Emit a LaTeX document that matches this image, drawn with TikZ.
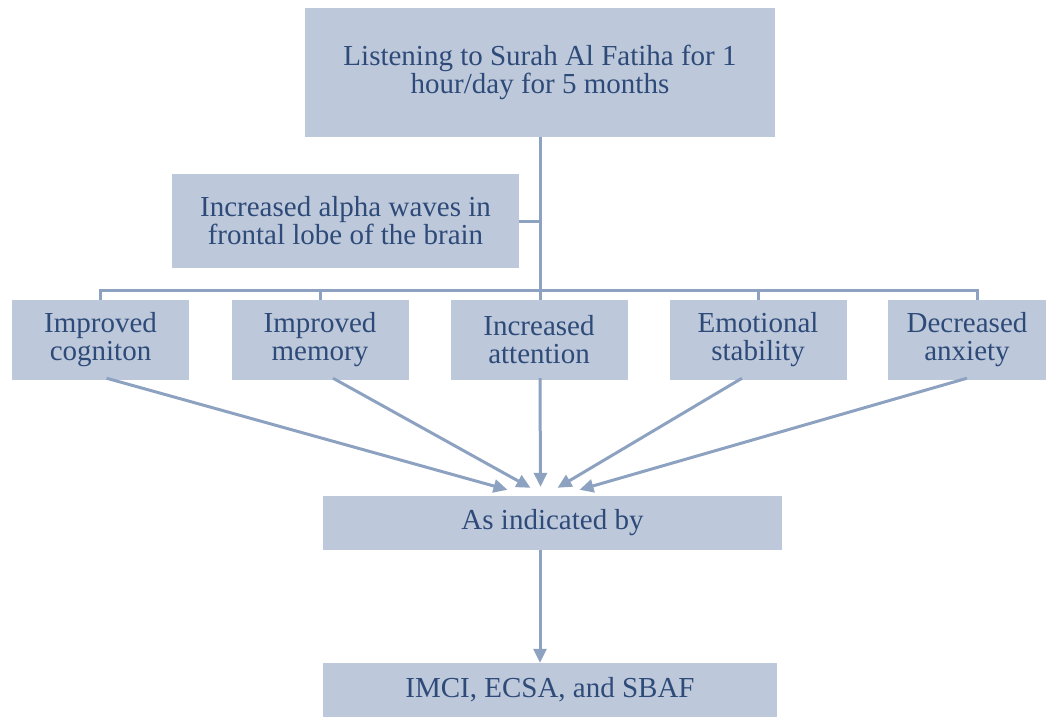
\documentclass[tikz,border=0pt]{standalone}
\usepackage{fontspec}
\setmainfont{Liberation Serif}
\usetikzlibrary{arrows.meta,calc}
\definecolor{boxfill}{HTML}{BDC9DB}
\definecolor{linecol}{HTML}{8DA2C0}
\definecolor{txtcol}{HTML}{2E4A78}
\begin{document}
\begin{tikzpicture}[x=1pt,y=-1pt,
  box/.style={rectangle, fill=boxfill, draw=none, inner sep=0pt, align=center,
    text=txtcol, font=\fontsize{29}{28}\selectfont},
  conn/.style={draw=linecol, line width=3pt},
  arr/.style={conn, -{Triangle[length=14pt,width=13pt]}}]
\useasboundingbox (0,0) rectangle (1055,717);
\node[box, minimum width=470, minimum height=129] (top) at (540,72.5) {Listening to Surah Al Fatiha for 1\\hour/day for 5 months};
\node[box, minimum width=347, minimum height=94] (alpha) at (345.5,221) {Increased alpha waves in\\frontal lobe of the brain};
\node[box, minimum width=177, minimum height=80] (cog) at (100.5,340) {Improved\\cogniton};
\node[box, minimum width=177, minimum height=80] (mem) at (320,340) {Improved\\memory};
\node[box, minimum width=177, minimum height=80] (att) at (539,340) {Increased\\attention};
\node[box, minimum width=177, minimum height=80] (emo) at (758,340) {Emotional\\stability};
\node[box, minimum width=158, minimum height=80] (dec) at (967,340) {Decreased\\anxiety};
\node[box, minimum width=459, minimum height=54] (ind) at (552.5,523) {As indicated by};
\node[box, minimum width=454, minimum height=54] (res) at (550,690) {IMCI, ECSA, and SBAF};
\coordinate (bar) at (0,290);
\draw[conn] (top.south) -- (top.south |- att.north);
\draw[conn] (alpha.east) -- (alpha.east -| top.south);
\draw[conn] (cog.north) -- (cog.north |- bar) -- ([xshift=10]dec.north |- bar) -- ([xshift=10]dec.north);
\draw[conn] (mem.north) -- (mem.north |- bar);
\draw[conn] (emo.north) -- (emo.north |- bar);
\draw[arr] ([xshift=6,yshift=2]cog.south) -- ($(ind.north)+(-45,-6)$);
\draw[arr] ([xshift=13,yshift=2]mem.south) -- ($(ind.north)+(-22,-8)$);
\draw[arr] ([xshift=1,yshift=2]att.south) -- ($(ind.north)+(-12,-9)$);
\draw[arr] ([xshift=-16,yshift=2]emo.south) -- ($(ind.north)+(5,-8)$);
\draw[arr] ([yshift=2]dec.south) -- ($(ind.north)+(27,-6)$);
\draw[arr] (ind.south -| top.south) -- (res.north -| top.south);
\end{tikzpicture}
\end{document}
